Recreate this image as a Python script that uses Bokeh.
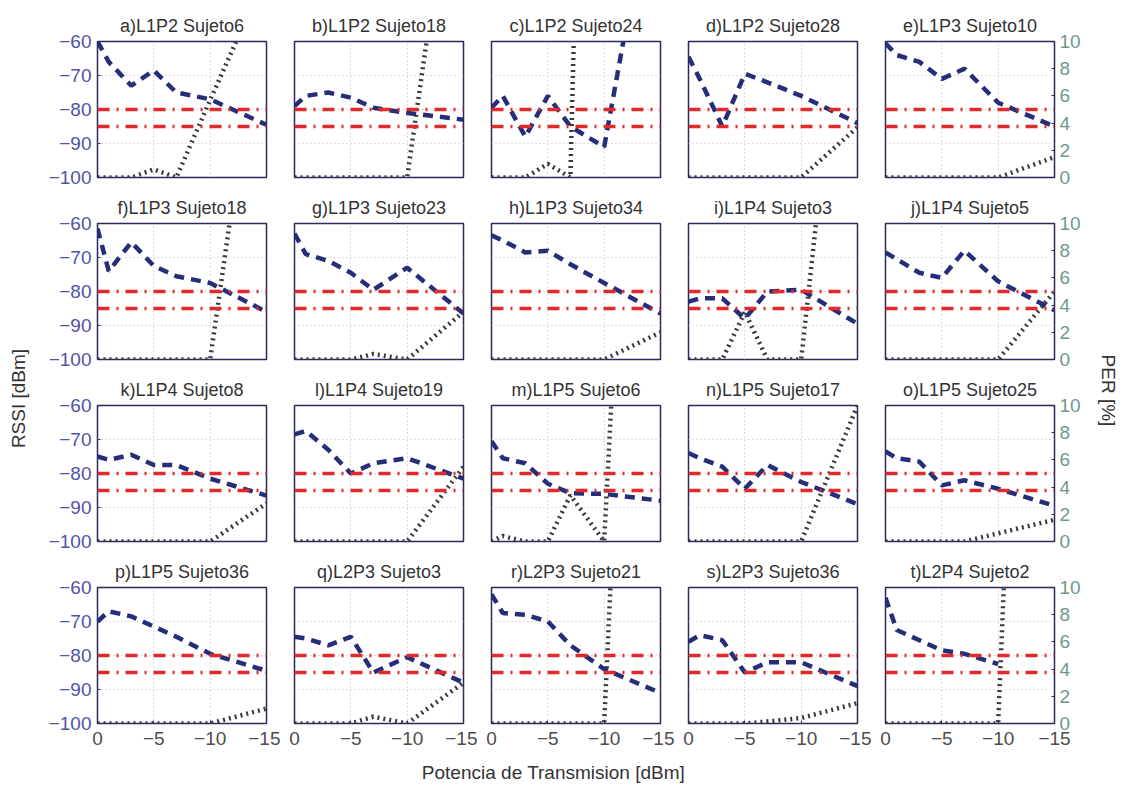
import math
from bokeh.plotting import figure
from bokeh.models import Range1d, LinearAxis, FixedTicker, Span, Grid
from bokeh.layouts import gridplot, row, column
from bokeh.embed import file_html
from bokeh.resources import INLINE
from bokeh.core.properties import value

NAN = float("nan")

# Transmission power levels [dBm]
x_power = [0, -1, -3, -5, -7, -10, -15]

titles = ["a)L1P2 Sujeto6", "b)L1P2 Sujeto18", "c)L1P2 Sujeto24", "d)L1P2 Sujeto28", "e)L1P3 Sujeto10",
          "f)L1P3 Sujeto18", "g)L1P3 Sujeto23", "h)L1P3 Sujeto34", "i)L1P4 Sujeto3", "j)L1P4 Sujeto5",
          "k)L1P4 Sujeto8", "l)L1P4 Sujeto19", "m)L1P5 Sujeto6", "n)L1P5 Sujeto17", "o)L1P5 Sujeto25",
          "p)L1P5 Sujeto36", "q)L2P3 Sujeto3", "r)L2P3 Sujeto21", "s)L2P3 Sujeto36", "t)L2P4 Sujeto2"]

# RSSI [dBm] per subplot
rssi_a = [-60, -66, -73, -68.5, -75, -77, -84.5]
rssi_b = [-79, -76, -75, -76.5, -79.5, -81, -83]
rssi_c = [-79.5, -76, -88, -76, -85, -91, 0]
rssi_d = [-64.5, -71, -85, -69.5, -72, -76, -84]
rssi_e = [-60.5, -64, -66, -71, -68, -78, -85]
rssi_f = [-61.5, -74, -65.5, -72.5, -75.5, -77.5, -86]
rssi_g = [-63, -69, -71, -74.5, -79.5, -73, -86.5]
rssi_h = [-63.5, -65, -68.5, -68, -72, -77.5, -86.5]
rssi_i = [-83, -82, -82, -88, -80, -79.5, -89.5]
rssi_j = [-68.5, -70.5, -74.5, -76, -68, -77, -85.5]
rssi_k = [-75, -76, -74.5, -77.5, -77.5, -81.5, -86.5]
rssi_l = [-68.5, -67.5, -73, -80, -77, -75.5, -81.5]
rssi_m = [-70.5, -75.5, -77, -83, -85.8, -86, -88]
rssi_n = [-74, -75.5, -78, -84.5, -77.5, -82.5, -89]
rssi_o = [-73.5, -75.5, -76.5, -83.5, -82, -84.5, -89.5]
rssi_p = [-70, -67, -68.5, -71.5, -74.5, -79.5, -84.5]
rssi_q = [-74.5, -75, -77, -74.5, -85, -80.5, -88]
rssi_r = [-62, -67.5, -68, -70, -77, -84, -91]
rssi_s = [-76, -74, -75.5, -85, -82, -82, -89]
rssi_t = [-63, -72.5, -75.5, -78.5, -79.5, -82.5, NAN]

# PER [%] per subplot
per_a = [0, 0, 0, 0.6, 0, 5.7, 15]
per_b = [0, 0, 0, 0, 0, 0, 29]
per_c = [0, 0, 0, 1, 0, 100, 100]
per_d = [0, 0, 0, 0, 0, 0, 3.7]
per_e = [0, 0, 0, 0, 0, 0, 1.5]
per_f = [0, 0, 0, 0, 0, 0, 29]
per_g = [0, 0, 0, 0, 0.4, 0, 3.5]
per_h = [0, 0, 0, 0, 0, 0, 2]
per_i = [0, 0, 0, 3.5, 0, 0, 38]
per_j = [0, 0, 0, 0, 0, 0, 5]
per_k = [0, 0, 0, 0, 0, 0, 2.8]
per_l = [0, 0, 0, 0, 0, 0, 5.5]
per_m = [0, 0.4, 0, 0, 3.4, 0, 80]
per_n = [0, 0, 0, 0, 0, 0, 10]
per_o = [0, 0, 0, 0, 0, 0.6, 1.6]
per_p = [0, 0, 0, 0, 0, 0, 1.1]
per_q = [0, 0, 0, 0, 0.5, 0, 3]
per_r = [0, 0, 0, 0, 0, 0, 90]
per_s = [0, 0, 0, 0, 0.15, 0.4, 1.5]
per_t = [0, 0, 0, 0, 0, 0, 100]

rssi_all = [rssi_a, rssi_b, rssi_c, rssi_d, rssi_e, rssi_f, rssi_g, rssi_h, rssi_i, rssi_j,
            rssi_k, rssi_l, rssi_m, rssi_n, rssi_o, rssi_p, rssi_q, rssi_r, rssi_s, rssi_t]
per_all = [per_a, per_b, per_c, per_d, per_e, per_f, per_g, per_h, per_i, per_j,
           per_k, per_l, per_m, per_n, per_o, per_p, per_q, per_r, per_s, per_t]

thresholds = [-80, -85]
rssi_ticks = [-100, -90, -80, -70, -60]
per_ticks = [0, 2, 4, 6, 8, 10]
x_ticks = [0, -5, -10, -15]

FONT = "Liberation Sans"
FRAME_COLOR = "#2a2a5c"
RSSI_COLOR = "#262e7a"
PER_COLOR = "#3a3a3a"
RED = "#e22a2a"
GRID_COLOR = "#b8b8b8"
LABEL_COLOR = "#333333"

TOP_B = 35
BOT_B = 11
LAST_BOT_B = 30


def style_axis(ax, color):
    ax.axis_line_color = None
    ax.major_tick_line_color = FRAME_COLOR
    ax.major_tick_in = 3
    ax.major_tick_out = 0
    ax.minor_tick_line_color = None
    ax.major_label_text_font = FONT
    ax.major_label_text_font_size = "19px"
    ax.major_label_text_color = color


panels = []
for idx in range(20):
    r, c = divmod(idx, 5)
    p = figure(frame_width=169, frame_height=136,
               x_range=Range1d(0, -15), y_range=Range1d(-100, -60),
               x_axis_location=None, y_axis_location=None,
               toolbar_location=None, output_backend="svg",
               min_border_left=67 if c == 0 else 14,
               min_border_right=40 if c == 4 else 14,
               min_border_top=TOP_B if r > 0 else 41,
               min_border_bottom=LAST_BOT_B if r == 3 else BOT_B,
               title=titles[idx])
    p.extra_y_ranges = {"per": Range1d(0, 10)}
    p.center = []
    p.add_layout(Grid(dimension=0, ticker=FixedTicker(ticks=[-5, -10]),
                      grid_line_color=GRID_COLOR, grid_line_dash="1 3"))
    p.add_layout(Grid(dimension=1, ticker=FixedTicker(ticks=[-70, -80, -90]),
                      grid_line_color=GRID_COLOR, grid_line_dash="1 3"))
    p.outline_line_color = FRAME_COLOR
    p.outline_line_width = 1.5
    p.background_fill_color = "white"
    p.border_fill_color = "white"
    p.title.align = "center"
    p.title.text_font = FONT
    p.title.text_font_size = "18px"
    p.title.text_font_style = "normal"
    p.title.text_color = LABEL_COLOR
    p.title.standoff = 12

    for th in thresholds:
        p.add_layout(Span(location=th, dimension="width", line_color=RED,
                          line_width=3.5, line_dash="12 7 2 7"))

    p.line(x_power, per_all[idx], y_range_name="per", line_color=PER_COLOR,
           line_width=4.5, line_dash="2 4")
    p.line(x_power, rssi_all[idx], line_color=RSSI_COLOR, line_width=4.5,
           line_dash="10 7")

    if c == 0:
        ax = LinearAxis(ticker=FixedTicker(ticks=rssi_ticks))
        style_axis(ax, "#5252a6")
        ax.major_label_standoff = 6
        p.add_layout(ax, "left")
    if c == 4:
        ax = LinearAxis(y_range_name="per", ticker=FixedTicker(ticks=per_ticks))
        style_axis(ax, "#6f988b")
        ax.major_label_standoff = 5
        p.add_layout(ax, "right")
    if r == 3:
        ax = LinearAxis(ticker=FixedTicker(ticks=x_ticks))
        style_axis(ax, "#4d4d4d")
        ax.major_label_standoff = 8
        p.add_layout(ax, "below")
    panels.append(p)


def label_fig(text, w, h, xpos, ypos, angle):
    f = figure(frame_width=w, frame_height=h, x_range=Range1d(0, 1), y_range=Range1d(0, 1),
               x_axis_location=None, y_axis_location=None, toolbar_location=None,
               output_backend="svg", min_border=0)
    f.center = []
    f.outline_line_color = None
    f.text(x=[xpos], y=[ypos], text=[text], angle=angle, text_align="center",
           text_baseline="middle", text_font=value(FONT), text_font_size="19px",
           text_color=LABEL_COLOR)
    return f


GRID_H = (41 + 136 + BOT_B) + 2 * (TOP_B + 136 + BOT_B) + (TOP_B + 136 + LAST_BOT_B)
left = label_fig("RSSI [dBm]", 30, GRID_H, 0.6, 1 - 398 / GRID_H, math.pi / 2)
right = label_fig("PER [%]", 30, GRID_H, 0.47, 1 - 390 / GRID_H, -math.pi / 2)
bottom = label_fig("Potencia de Transmision [dBm]", 1124, 32, 553 / 1124, 0.4, 0)

grid = gridplot([panels[i * 5:(i + 1) * 5] for i in range(4)], toolbar_location=None)
layout = column(row(left, grid, right), bottom)

open("out.html", "w").write(file_html(layout, INLINE))
